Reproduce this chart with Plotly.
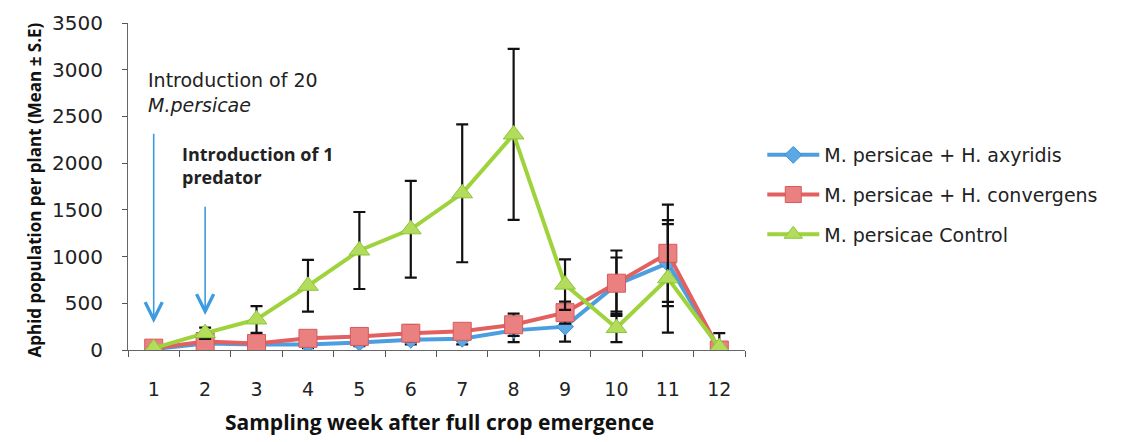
import plotly.graph_objects as go

# Sampling weeks after full crop emergence
weeks = list(range(1, 13))
week_labels = [str(w) for w in weeks]

# Aphid population per plant (mean and standard error)
axyridis_mean = [10, 70, 60, 60, 80, 110, 120, 210, 250, 700, 930, 0]
axyridis_se = [10, 30, 30, 40, 40, 50, 60, 125, 160, 290, 460, 10]

convergens_mean = [20, 90, 70, 125, 145, 180, 200, 270, 400, 715, 1035, 0]
convergens_se = [20, 40, 40, 50, 60, 87, 70, 120, 117, 350, 520, 10]

control_mean = [20, 180, 327, 687, 1065, 1292, 1677, 2307, 700, 235, 767, 30]
control_se = [10, 60, 143, 277, 412, 518, 738, 915, 270, 150, 580, 150]

series_names = ["M. persicae + H. axyridis",
                "M. persicae + H. convergens",
                "M. persicae Control"]

REG = "DejaVu Sans"
BOLD = "Open Sans"

fig = go.Figure()

def add_series(name, mean, se, line_color, marker_symbol, marker_size, fill, border):
    fig.add_trace(go.Scatter(
        x=weeks, y=mean, name=name, mode="lines+markers",
        line=dict(color=line_color, width=4),
        marker=dict(symbol=marker_symbol, size=marker_size, color=fill,
                    line=dict(color=border, width=1)),
        error_y=dict(type="data", array=se, visible=True,
                     color="#111111", thickness=2.2, width=6),
        legendgroup=name,
    ))

add_series(series_names[0], axyridis_mean, axyridis_se,
           "#4b9fe0", "diamond", 13, "#5aa8e6", "#3b8fd0")
add_series(series_names[1], convergens_mean, convergens_se,
           "#e2605f", "square", 18, "#ea8080", "#d65a5a")
add_series(series_names[2], control_mean, control_se,
           "#9fd33c", "triangle-up", 18, "#b3dc5c", "#8cc63a")

arrow_color = "#3d9be0"

annotations = [
    # axis titles
    dict(text="Aphid population per plant (Mean ± S.E)", textangle=-90,
         xref="paper", yref="paper", x=-0.173, y=0.49, showarrow=False,
         font=dict(family=BOLD, size=17, color="#111111", weight="bold")),
    dict(text="Sampling week after full crop emergence",
         xref="paper", yref="paper", x=0.505, y=-0.268, showarrow=False,
         font=dict(family=BOLD, size=21, color="#111111", weight="bold")),
    # introduction notes
    dict(text="Introduction of 20<br><i>M.persicae</i>", align="left",
         xref="x", yref="y", x=0.85, y=2760, xanchor="left", yanchor="middle",
         showarrow=False, font=dict(family=REG, size=19, color="#222222")),
    dict(text="Introduction of 1<br>predator", align="left",
         xref="x", yref="y", x=1.52, y=1970, xanchor="left", yanchor="middle",
         showarrow=False,
         font=dict(family=BOLD, size=18, color="#222222", weight="bold")),
    # arrows marking the introductions
    dict(xref="x", yref="y", x=weeks[0], y=290, ax=weeks[0], ay=2330,
         axref="x", ayref="y", showarrow=True, arrowhead=5, arrowsize=2.1,
         arrowwidth=1.6, arrowcolor=arrow_color, text=""),
    dict(xref="x", yref="y", x=weeks[1], y=375, ax=weeks[1], ay=1550,
         axref="x", ayref="y", showarrow=True, arrowhead=5, arrowsize=2.1,
         arrowwidth=1.6, arrowcolor=arrow_color, text=""),
]

fig.update_layout(
    width=1139, height=442,
    margin=dict(l=128, r=394, t=23, b=92),
    paper_bgcolor="white", plot_bgcolor="white",
    showlegend=True,
    legend=dict(x=1.028, y=0.474, xanchor="left", yanchor="middle",
                traceorder="grouped", tracegroupgap=12,
                font=dict(family=REG, size=19, color="#222222"),
                itemwidth=52, bgcolor="rgba(0,0,0,0)"),
    annotations=annotations,
)

fig.update_xaxes(
    range=[0.5, 12.5], tickvals=weeks, ticktext=week_labels,
    ticks="", ticklabelstandoff=22,
    minor=dict(tick0=0.5, dtick=1, ticks="outside", ticklen=6,
               tickcolor="#555555", tickwidth=1),
    showline=True, linecolor="#666666", linewidth=1.2,
    showgrid=False, zeroline=False,
    tickfont=dict(family=REG, size=19, color="#222222"),
)
fig.update_yaxes(
    range=[0, 3500], dtick=500, tick0=0,
    ticks="outside", ticklen=5, tickcolor="#555555",
    ticklabelstandoff=15,
    showline=True, linecolor="#666666", linewidth=1.2,
    showgrid=False, zeroline=False,
    tickfont=dict(family=REG, size=20, color="#222222"),
)

fig.write_html("out.html")
